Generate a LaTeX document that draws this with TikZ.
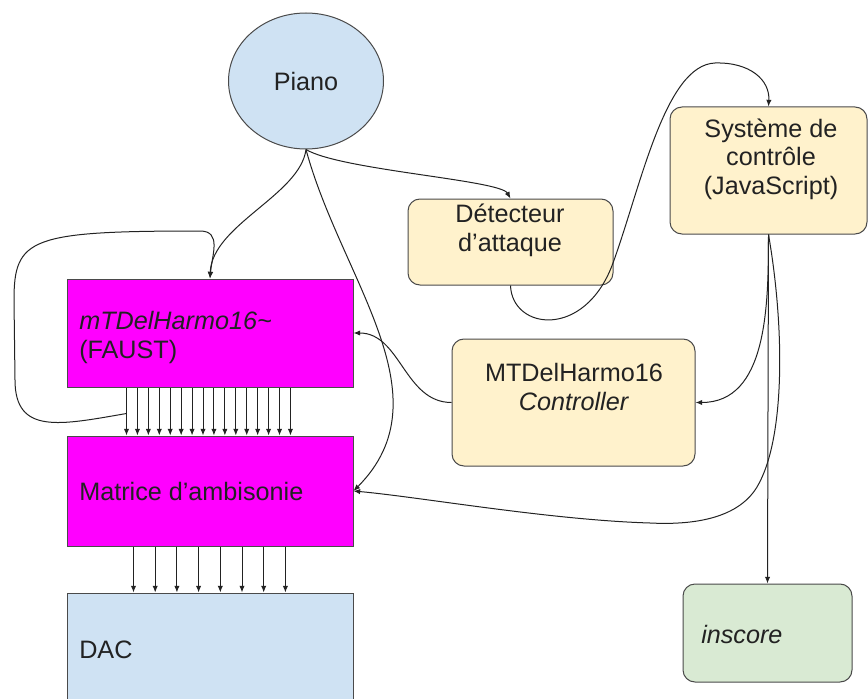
\documentclass[tikz,border=0pt]{standalone}
\usepackage{fontspec}
\setmainfont{Liberation Sans}
\usepackage{xcolor}
\usetikzlibrary{shapes.geometric, arrows.meta, calc}
\definecolor{soft-blue}{HTML}{CFE2F3}
\definecolor{soft-yellow}{HTML}{FFF2CC}
\definecolor{soft-green}{HTML}{D9EAD3}
\definecolor{dsp-magenta}{HTML}{FF00FF}
\definecolor{ink}{HTML}{222222}
\definecolor{rim}{HTML}{4A4A4A}

\begin{document}
\begin{tikzpicture}[x=0.75pt, y=-0.75pt,
  every node/.style={font=\fontsize{18.9}{21.75}\selectfont, text=ink, inner sep=0pt},
  box/.style={draw=rim, line width=0.75pt, rectangle},
  dsp/.style={box, fill=dsp-magenta, minimum width=214.5pt},
  ctl/.style={box, fill=soft-yellow, rounded corners=9pt},
  arr/.style={draw=ink, line width=0.75pt, -{Latex[length=5pt, width=4pt]}}]
  \useasboundingbox (0, 0) rectangle (868, 699);
  \clip (0, 0) rectangle (868, 699);
  \node[ellipse, draw=rim, line width=0.75pt, fill=soft-blue,
    minimum width=116.25pt, minimum height=102pt] (piano) at (306, 81) {Piano};
  \node[dsp, minimum height=81pt] (faust) at (210, 333) {};
  \node[dsp, minimum height=82.5pt] (matrice) at (210, 491) {};
  \node[box, fill=soft-blue, minimum width=214.5pt,
    minimum height=95.25pt] (dac) at (210, 656.5) {};
  \node[ctl, minimum width=153.75pt, minimum height=64.5pt] (detect) at (510.5, 242) {};
  \node[ctl, minimum width=147.75pt, minimum height=95.25pt] (systeme) at (768.5, 170.5) {};
  \node[ctl, minimum width=182.25pt, minimum height=95.25pt] (controller) at (573.5, 402.5) {};
  \node[box, fill=soft-green, rounded corners=9pt, minimum width=126.75pt,
    minimum height=73.5pt] (inscore) at (767.5, 633) {};
  \node[anchor=base west, align=left] (faust-txt) at (79, 358)
    {\textit{mTDelHarmo16\textasciitilde}\\(FAUST)};
  \node[anchor=base west] (matrice-txt) at (79, 500) {Matrice d’ambisonie};
  \node[anchor=base west] (dac-txt) at (79, 658) {DAC};
  \node[anchor=base, align=center] (detect-txt) at (510, 251) {Détecteur\\d’attaque};
  \node[anchor=base, align=center] (systeme-txt) at (771, 195)
    {Système de\\contrôle\\(JavaScript)};
  \node[anchor=base, align=center] (controller-txt) at (574, 410)
    {MTDelHarmo16\\\textit{Controller}};
  \node[anchor=base west] (inscore-txt) at (701, 643) {\textit{inscore}};
  \coordinate (fb) at ($(faust.south west)+(60, 26)$);
  \foreach \i in {0,...,15}
    \draw[arr] ($(faust.south west)+(60+10.93*\i, 0)$) -- ($(matrice.north west)+(60+10.93*\i, 0)$);
  \foreach \i in {0,...,7}
    \draw[arr] ($(matrice.south west)+(67+21.7*\i, 0)$) -- ($(dac.north west)+(67+21.7*\i, 0)$);
  \draw[arr] (piano.south) .. controls (300, 195) and (212, 225) .. (faust.north);
  \draw[arr] (piano.south) .. controls (340, 170) and (500, 180) .. (detect.north);
  \draw[arr] (piano.south) .. controls (341, 279) and (448, 396) .. (matrice.east);
  \draw[arr] (fb) .. controls (60, 425) and (15, 435) .. (15, 380) -- (14, 300)
    .. controls (14, 238) and (30, 231) .. (200, 231)
    .. controls (222, 231) and (212, 255) .. (faust.north);
  \draw[arr] (detect.south) .. controls (512, 330) and (585, 340) .. (613, 263)
    .. controls (641, 186) and (665, 65) .. (715, 63)
    .. controls (750, 62) and (770, 80) .. (systeme.north);
  \draw[arr] (systeme.south) to[out=-90, in=0] (controller.east);
  \draw[arr] (systeme.south) -- (inscore.north);
  \draw[arr] (systeme.south) .. controls (785, 330) and (785, 440) .. (757, 487)
    .. controls (737, 520) and (690, 525) .. (650, 523)
    .. controls (550, 520) and (420, 497) .. (matrice.east);
  \draw[arr] (controller.west) to[out=180, in=0] (faust.east);
\end{tikzpicture}
\end{document}
